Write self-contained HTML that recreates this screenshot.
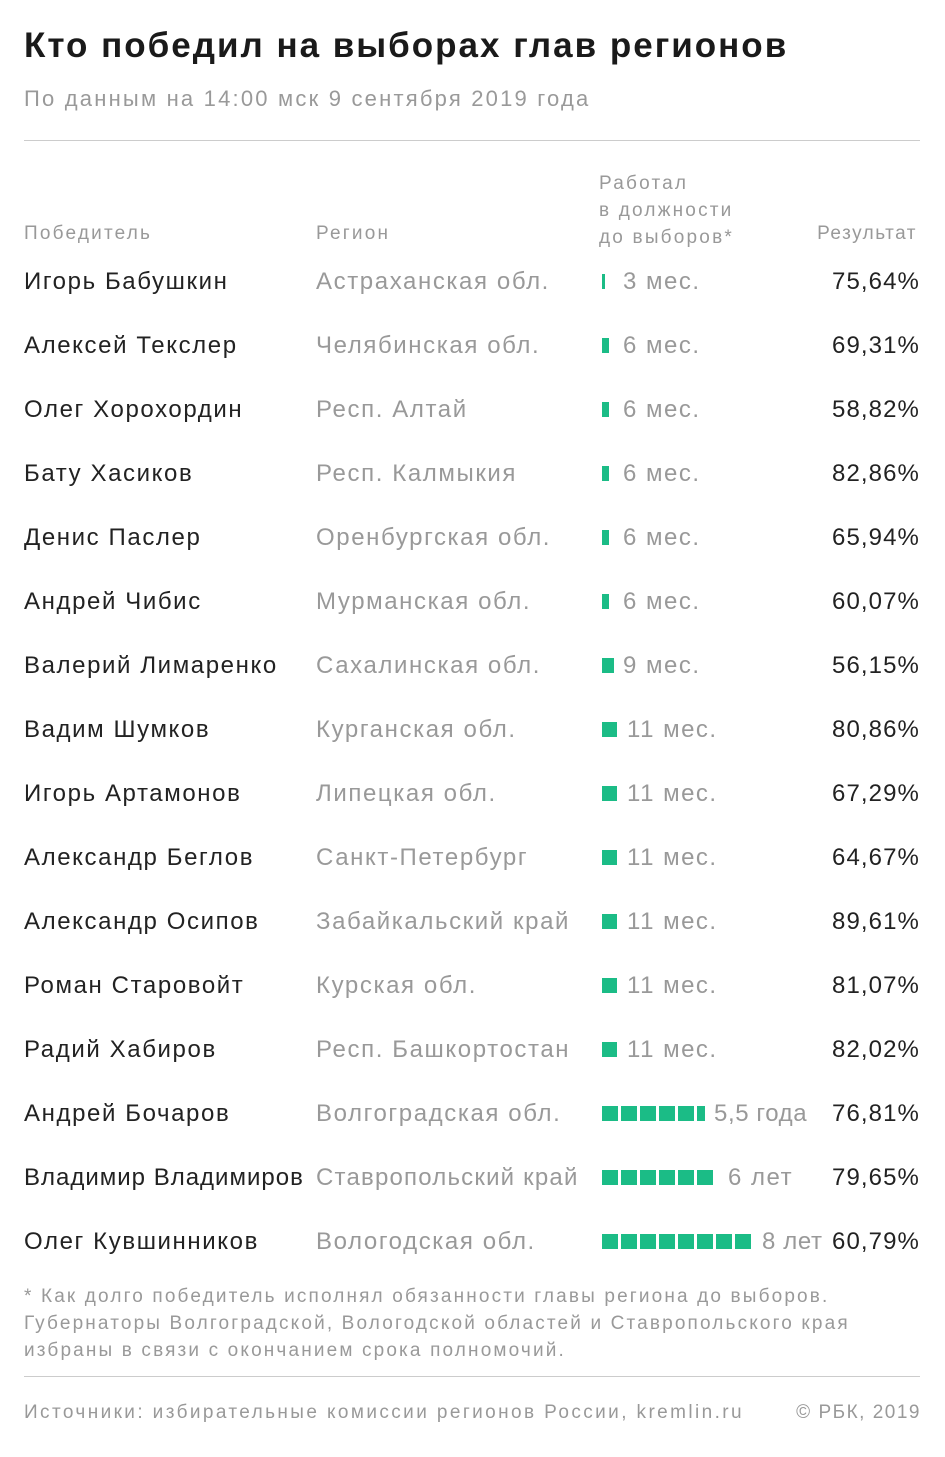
<!DOCTYPE html>
<html><head><meta charset="utf-8"><style>
body{margin:0;background:#fff;width:945px;height:1457px;position:relative;font-family:"Liberation Sans",sans-serif;overflow:hidden}
.a{position:absolute;white-space:nowrap;line-height:1}
.t{font-size:35px;font-weight:bold;color:#1a1a1a;left:24px;top:28px;letter-spacing:2px}
.s{font-size:22px;color:#999;left:24px;top:88px;letter-spacing:2.2px}
.h{font-size:19px;color:#999;letter-spacing:2.2px}
.n{font-size:24px;color:#222;left:24px;letter-spacing:1.6px}
.r{font-size:24px;color:#999;left:316px;letter-spacing:1.6px}
.m{font-size:24px;color:#999;letter-spacing:1.5px}
.p{font-size:24px;color:#222;right:25px;letter-spacing:1.1px}
.b{position:absolute;background:#1bbc86;height:15px}
.hr{position:absolute;left:24px;width:896px;height:1px;background:#ccc}
.f{font-size:19px;color:#999;letter-spacing:2.15px}
</style></head><body>
<div class="a t">Кто победил на выборах глав регионов</div>
<div class="a s">По данным на 14:00 мск 9 сентября 2019 года</div>
<div class="hr" style="top:140px"></div>
<div class="a h" style="left:24px;top:224px">Победитель</div>
<div class="a h" style="left:316px;top:224px">Регион</div>
<div class="a h" style="left:599px;top:170px;line-height:27px">Работал<br>в должности<br>до выборов*</div>
<div class="a h" style="right:28px;top:224px;letter-spacing:1.5px">Результат</div>
<div id="rows"></div>
<div class="a f" style="left:24px;top:1283px;line-height:27px">* Как долго победитель исполнял обязанности главы региона до выборов.<br>Губернаторы Волгоградской, Вологодской областей и Ставропольского края<br>избраны в связи с окончанием срока полномочий.</div>
<div class="hr" style="top:1376px"></div>
<div class="a f" style="left:24px;top:1403px;letter-spacing:2.4px">Источники: избирательные комиссии регионов России, kremlin.ru</div>
<div class="a f" style="right:24px;top:1403px;letter-spacing:1.5px">© РБК, 2019</div>
<script>
var d=[["Игорь Бабушкин","Астраханская обл.","3 мес.","75,64%",3,623],
["Алексей Текслер","Челябинская обл.","6 мес.","69,31%",7,623],
["Олег Хорохордин","Респ. Алтай","6 мес.","58,82%",7,623],
["Бату Хасиков","Респ. Калмыкия","6 мес.","82,86%",7,623],
["Денис Паслер","Оренбургская обл.","6 мес.","65,94%",7,623],
["Андрей Чибис","Мурманская обл.","6 мес.","60,07%",7,623],
["Валерий Лимаренко","Сахалинская обл.","9 мес.","56,15%",12,623],
["Вадим Шумков","Курганская обл.","11 мес.","80,86%",15,627],
["Игорь Артамонов","Липецкая обл.","11 мес.","67,29%",15,627],
["Александр Беглов","Санкт-Петербург","11 мес.","64,67%",15,627],
["Александр Осипов","Забайкальский край","11 мес.","89,61%",15,627],
["Роман Старовойт","Курская обл.","11 мес.","81,07%",15,627],
["Радий Хабиров","Респ. Башкортостан","11 мес.","82,02%",15,627],
["Андрей Бочаров","Волгоградская обл.","5,5 года","76,81%",-5.5,714],
["Владимир Владимиров","Ставропольский край","6 лет","79,65%",-6,728],
["Олег Кувшинников","Вологодская обл.","8 лет","60,79%",-8,762]];
var h="";
d.forEach(function(r,i){var y=282+64*i,ty=y-12;
var ls=i==14?'letter-spacing:1px;':'';
var rl=i==14?'letter-spacing:1.2px;':'';
h+='<div class="a n" style="top:'+ty+'px;'+ls+'">'+r[0]+'</div><div class="a r" style="top:'+ty+'px;'+rl+'">'+r[1]+'</div><div class="a m" style="left:'+r[5]+'px;top:'+ty+'px;'+(i==13?'letter-spacing:0.6px':'')+(i==15?'letter-spacing:0.6px':'')+'">'+r[2]+'</div><div class="a p" style="top:'+ty+'px">'+r[3]+'</div>';
if(r[4]>0)h+='<div class="b" style="left:602px;top:'+(y-8)+'px;width:'+r[4]+'px"></div>';
else{var n=-r[4];for(var k=0;k<Math.ceil(n);k++){var w=(n-k>=1)?16:8;h+='<div class="b" style="left:'+(602+19*k)+'px;top:'+(y-8)+'px;width:'+w+'px"></div>';}}
});
document.getElementById("rows").innerHTML=h;
</script>
</body></html>
